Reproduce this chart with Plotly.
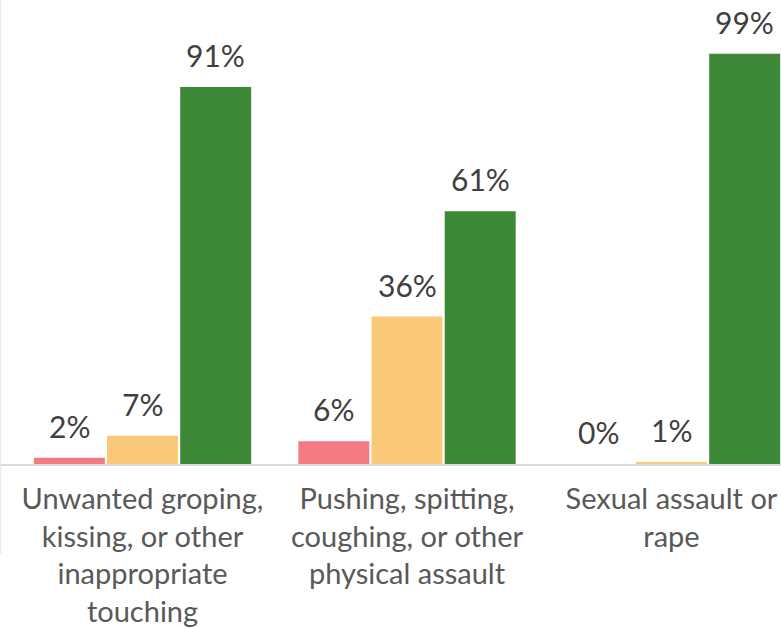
import math
import plotly.graph_objects as go

categories = [
    "Unwanted groping,<br>kissing, or other<br>inappropriate<br>touching",
    "Pushing, spitting,<br>coughing, or other<br>physical assault",
    "Sexual assault or<br>rape",
]
series_names = ["Series 1", "Series 2", "Series 3"]
values_red = [1.5, 5.5, 0]
values_yellow = [6.8, 35.6, 0.5]
values_green = [91, 61, 99]
colors = ["#F27A80", "#F9C878", "#3D8837"]

W, H = 781, 628
X_RANGE = [-0.5388, 2.414]
BARGAP = 0.17
px_per_unit = W / (X_RANGE[1] - X_RANGE[0])
slot_px = (1 - BARGAP) / 3 * px_per_unit


def pct_label(v):
    return f"{math.floor(v + 0.5)}%"


fig = go.Figure()
annotations = []
all_series = [values_red, values_yellow, values_green]
for si, (name, vals, col) in enumerate(zip(series_names, all_series, colors)):
    fig.add_trace(go.Bar(
        x=categories, y=vals, name=name, marker_color=col,
        marker_line_width=0,
    ))
    for ci, v in enumerate(vals):
        annotations.append(dict(
            x=categories[ci], y=v, xref="x", yref="y",
            text=pct_label(v), showarrow=False,
            xanchor="center", yanchor="bottom",
            xshift=(si - 1) * slot_px, yshift=12,
            font=dict(family="Lato", size=30, color="#404040"),
        ))

fig.update_layout(
    width=W, height=H,
    margin=dict(l=0, r=0, t=0, b=162),
    paper_bgcolor="white", plot_bgcolor="white",
    barmode="group", bargap=BARGAP, bargroupgap=0.03,
    showlegend=False,
    xaxis=dict(
        range=X_RANGE, showline=True, linecolor="#D9D9D9", linewidth=2,
        tickfont=dict(family="Lato", size=29, color="#595959"),
        ticks="", showgrid=False, ticklabelstandoff=8,
    ),
    yaxis=dict(range=[0, 112], visible=False, showgrid=False),
    annotations=annotations,
    shapes=[dict(type="line", xref="paper", yref="paper", x0=0.001, x1=0.001,
                 y0=1, y1=-0.193, line=dict(color="#E6E6E6", width=1))],
)
fig.write_html(
    "out.html",
    config={"displayModeBar": False},
    post_script="document.body.style.margin='0';document.body.style.overflow='hidden';",
)
